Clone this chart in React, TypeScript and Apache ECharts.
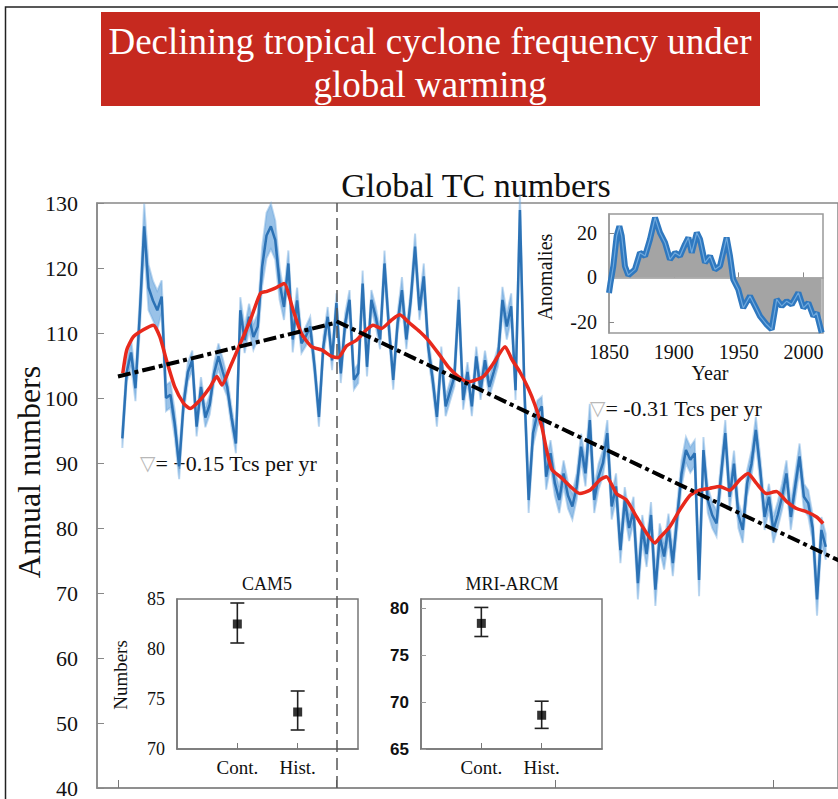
import React, { useEffect, useRef } from 'react';
import * as echarts from 'echarts';

const FONT = "'Liberation Serif', 'Times New Roman', Times, serif";

// Main panel: annual global TC numbers (central ensemble line), 1851-2012
const START_YEAR = 1851;
const tcNumbers = [
  93.8, 104, 107, 101.5, 113, 126.4, 117, 115, 113.5, 115.6,
  100, 100.5, 96, 89.5, 99, 104, 105.8, 95.6, 101.7, 97,
  99, 103.8, 106.4, 104, 101.7, 97, 93, 113.5, 108.9, 112.5,
  109.4, 111, 120.2, 125, 126.4, 124.3, 117.6, 114, 120.7, 109,
  115, 108.4, 109.5, 111, 104.8, 97.1, 107.9, 112.5, 105.8, 114.6,
  103.8, 111.5, 115.1, 102.8, 103.8, 117.6, 104.8, 115.1, 112.5, 109,
  120.7, 111, 102.8, 111.5, 116.6, 109, 115, 123.3, 113.5, 118.7,
  107.9, 103, 97.1, 106.4, 98.7, 101, 103.3, 115.1, 99.7, 104,
  98.7, 106.4, 101.2, 105.8, 101.7, 104, 106.4, 115.1, 111, 114.1,
  101.2, 128.9, 101.7, 84.3, 94.6, 97.6, 98.7, 87.9, 91.5, 86.9,
  84.3, 88.4, 85, 83.3, 86.4, 92.5, 88.4, 96.6, 84.3, 87.9,
  90, 94.6, 83.3, 86.4, 76.6, 84.3, 80, 82.8, 71.5, 80,
  76, 82, 70.5, 78.7, 75.6, 80.2, 74.6, 81.7, 88.4, 92,
  90.5, 91.5, 72, 92, 84.3, 82, 80.7, 87.9, 94.6, 84.8,
  89.9, 82, 79.7, 86.9, 89.9, 95.1, 88.9, 81.7, 84.8, 79.7,
  82, 84.8, 88.4, 81.7, 86.4, 91, 84.8, 83.8, 80, 69,
  79.7, 77.1,
];
// half-width of the ensemble spread (light blue band), per year
const tcSpread = [
  1.5, 1.5, 2, 2, 2.5, 3.5, 3.5, 3, 3, 2.5,
  2, 2, 2, 2, 1.5, 1.5, 1.5, 1.5, 1.5, 1.5,
  1.5, 1.5, 2, 2, 1.5, 1.5, 1.5, 2, 2, 2,
  2, 2, 3, 3.5, 3.5, 3, 2.5, 2, 2, 2,
  2, 1.5, 1.5, 1.5, 1.5, 1.5, 1.5, 1.5, 1.5, 1.5,
  1.5, 1.5, 1.5, 1.5, 1.5, 2, 1.5, 1.5, 1.5, 1.5,
  2, 1.5, 1.5, 1.5, 2, 1.5, 1.5, 2, 1.5, 2,
  1.5, 1.5, 1.5, 1.5, 1.5, 1.5, 1.5, 2, 1.5, 1.5,
  1.5, 1.5, 1.5, 1.5, 1.5, 1.5, 1.5, 2, 2, 2,
  1.5, 2.5, 2, 2, 2, 2, 1.5, 2, 2, 2,
  2, 2, 2, 2, 2, 2, 2, 2.5, 2, 2,
  2, 2, 2, 2, 2, 2, 2, 2, 2.5, 2,
  2, 2, 2.5, 2, 2, 2, 2, 2, 2, 2,
  2, 2, 2.5, 2, 2, 2, 2, 2, 2, 2,
  2, 2, 2, 2, 2, 2, 2, 2, 2, 2,
  2, 2, 2, 2, 2, 2, 2, 2, 2, 2.5,
  2, 2,
];
// Smoothed (red) curve
const smoothed: [number, number][] = [
  [1851.1, 103.8], [1852, 107.4], [1853.5, 109.4], [1855.8, 110.5], [1858.1, 111.2],
  [1859.6, 109.4], [1861.1, 105.8], [1863, 101.7], [1865, 99.2], [1866.5, 98.4],
  [1868.8, 99.7], [1871.1, 101.7], [1872.6, 103.3], [1873.8, 102], [1875.7, 104.8],
  [1878, 108.4], [1880.3, 112], [1882.6, 116.1], [1884.1, 116.4], [1886, 116.9],
  [1888, 117.6], [1890.1, 113.5], [1892, 109.9], [1894.3, 107.9], [1896.6, 107.4],
  [1898.9, 106.4], [1900.4, 106.2], [1902.3, 108], [1904.6, 108.9], [1906.9, 110.5],
  [1908.4, 111.2], [1910.3, 110.7], [1912.6, 112], [1914.5, 112.8], [1916.8, 111.5],
  [1919.1, 110.2], [1921, 108.9], [1923.3, 106.9], [1925.6, 104.8], [1927.9, 103.3],
  [1930.2, 102.5], [1933.6, 103.3], [1935.9, 105.3], [1938.6, 107.9], [1940.1, 106],
  [1942, 104], [1943.9, 101.5], [1945.4, 99], [1947, 95.6], [1948.1, 92],
  [1949.3, 89], [1951.2, 87.9], [1953.5, 86.4], [1955.7, 85.3], [1958, 85.8],
  [1960.3, 87.4], [1961.8, 87.9], [1964.1, 85.3], [1966.4, 84.3], [1968.7, 81.7],
  [1971, 79.2], [1972.9, 77.7], [1974, 78.5], [1976.3, 80.2], [1978.6, 82.8],
  [1980.9, 85], [1983, 85.8], [1985.4, 86.1], [1987.7, 86.4], [1990, 85.8],
  [1992.3, 87.4], [1994.2, 88.4], [1996.1, 86.9], [1998.4, 85.3], [2000.7, 85.6],
  [2003, 84.1], [2005.3, 83], [2007.6, 82.5], [2009.9, 81.7], [2011.4, 80.7],
];
const trendEarly: [number, number][] = [[1850, 103.3], [1900, 111.6]];
const trendLate: [number, number][] = [[1900, 111.8], [2015, 75.0]];
const breakYear = 1900;
const mainXTicks = [1850, 1900, 1950, 2000];

// Anomalies inset
const anomalies: [number, number][] = [
  [1850, -7], [1851, -3], [1853.3, 5], [1855.9, 18.6], [1858, 23], [1859.8, 18.6],
  [1862.3, 5], [1864.9, 1], [1870, 3.6], [1873.9, 11.1], [1877.8, 9.6], [1881.6, 17.1],
  [1885.5, 26.9], [1889.3, 20.1], [1893.2, 15.6], [1897, 8.1], [1900.9, 11.1], [1904.7, 9.6],
  [1908.6, 14.9], [1911.2, 17.9], [1913.8, 11.1], [1917.7, 20.1], [1920.2, 17.1], [1924, 6.6],
  [1927.9, 9.6], [1931.7, 3.6], [1935.6, 5.1], [1940.7, 17.9], [1943.3, 9.6], [1945.8, -0.9],
  [1949.7, -5.4], [1953.5, -13.7], [1958.7, -8.4], [1962.6, -12.9], [1966.4, -17.4], [1971.6, -21.2],
  [1975.4, -23.4], [1979.3, -9.9], [1983.2, -12.9], [1987, -10.7], [1990.9, -12.2], [1996, -6.9],
  [1999.9, -13.7], [2003.7, -11.4], [2007.6, -17.4], [2010.1, -15.9], [2014, -24.9],
];
const anomXTicks = [1850, 1900, 1950, 2000];
const anomYTicks = [-20, 0, 20];

// Model experiments
const modelCats = ['Cont.', 'Hist.'];
const cam5Mean = [82.5, 73.7];
const cam5Low = [80.6, 71.9];
const cam5High = [84.6, 75.8];
const mriMean = [78.4, 68.6];
const mriLow = [77.0, 67.2];
const mriHigh = [80.1, 70.1];
const mriYTicks = [65, 70, 75, 80];

const years = tcNumbers.map((_, i) => START_YEAR + i);

const errorBar = (params: any, api: any) => {
  const x = api.value(0);
  const lo = api.coord([x, api.value(1)]);
  const hi = api.coord([x, api.value(2)]);
  const w = 7;
  const st = { stroke: '#222', lineWidth: 1.6 };
  return {
    type: 'group',
    children: [
      { type: 'line', shape: { x1: lo[0], y1: lo[1], x2: hi[0], y2: hi[1] }, style: st },
      { type: 'line', shape: { x1: lo[0] - w, y1: lo[1], x2: lo[0] + w, y2: lo[1] }, style: st },
      { type: 'line', shape: { x1: hi[0] - w, y1: hi[1], x2: hi[0] + w, y2: hi[1] }, style: st },
    ],
  };
};

const bandItem = (params: any, api: any) => {
  if (params.dataIndex !== 0) return { type: 'group', children: [] };
  const upper: number[][] = [];
  const lower: number[][] = [];
  for (let i = 0; i < years.length; i++) {
    upper.push(api.coord([years[i], tcNumbers[i] + tcSpread[i]]));
    lower.push(api.coord([years[i], tcNumbers[i] - tcSpread[i]]));
  }
  return {
    type: 'polygon',
    shape: { points: upper.concat(lower.reverse()) },
    style: { fill: 'rgba(110,168,222,0.7)', stroke: 'rgba(110,168,222,0.45)', lineWidth: 2 },
  };
};

const plain = (v: number) => String(v);

export default function App() {
  const ref = useRef<HTMLDivElement>(null);
  useEffect(() => {
    if (!ref.current) return;
    const chart = echarts.init(ref.current, undefined, { renderer: 'svg' });
    const catLabel = (v: number) => modelCats[Math.round(v) - 1] ?? '';
    const insetX = (gridIndex: number) => ({
      type: 'value', gridIndex, min: 0, max: 3,
      axisLine: { show: true, lineStyle: { color: '#777', width: 1.5 } },
      axisTick: { show: true, inside: true, length: 6, customValues: [1, 2], lineStyle: { color: '#777' } },
      axisLabel: { customValues: [1, 2], formatter: catLabel, fontFamily: FONT, fontSize: 19, color: '#111', margin: 9 },
      splitLine: { show: false },
    });
    const option: any = {
      animation: false,
      backgroundColor: '#fff',
      grid: [
        { left: 97, top: 203, width: 741, height: 585, show: true, borderColor: '#888', borderWidth: 1.5, outerBoundsMode: 'none', containLabel: false },
        { left: 609, top: 214, width: 214, height: 119, show: true, borderColor: '#999', borderWidth: 1.5, backgroundColor: '#fff', outerBoundsMode: 'none', containLabel: false },
        { left: 177, top: 599, width: 181, height: 150, show: true, borderColor: '#777', borderWidth: 1.5, outerBoundsMode: 'none', containLabel: false },
        { left: 421, top: 599, width: 181, height: 150, show: true, borderColor: '#777', borderWidth: 1.5, outerBoundsMode: 'none', containLabel: false },
      ],
      xAxis: [
        {
          type: 'value', gridIndex: 0, min: 1845.2, max: 2014.8,
          axisLine: { show: true, lineStyle: { color: '#888', width: 1.5 } },
          axisTick: { show: true, inside: true, length: 8, customValues: mainXTicks, lineStyle: { color: '#777' } },
          axisLabel: { customValues: mainXTicks, formatter: plain, fontFamily: FONT, fontSize: 22, color: '#111', margin: 8 },
          splitLine: { show: false },
        },
        {
          type: 'value', gridIndex: 1, min: 1850, max: 2015,
          axisLine: { show: true, lineStyle: { color: '#999', width: 1.5 } },
          axisTick: { show: true, inside: true, length: 5, customValues: anomXTicks, lineStyle: { color: '#888' } },
          axisLabel: { customValues: anomXTicks, formatter: plain, fontFamily: FONT, fontSize: 20, color: '#111', margin: 9 },
          splitLine: { show: false },
        },
        insetX(2),
        insetX(3),
      ],
      yAxis: [
        {
          type: 'value', gridIndex: 0, min: 40, max: 130, interval: 10,
          axisLine: { show: true, lineStyle: { color: '#888', width: 1.5 } },
          axisTick: { show: true, inside: true, length: 7, lineStyle: { color: '#888' } },
          axisLabel: { formatter: plain, fontFamily: FONT, fontSize: 22, color: '#111', margin: 19 },
          splitLine: { show: false },
        },
        {
          type: 'value', gridIndex: 1, min: -25, max: 28.5,
          axisLine: { show: true, lineStyle: { color: '#999', width: 1.5 } },
          axisTick: { show: true, inside: true, length: 5, customValues: anomYTicks, lineStyle: { color: '#888' } },
          axisLabel: { customValues: anomYTicks, formatter: plain, fontFamily: FONT, fontSize: 20, color: '#111', margin: 12 },
          splitLine: { show: false },
        },
        {
          type: 'value', gridIndex: 2, min: 70, max: 85, interval: 5,
          axisLine: { show: true, lineStyle: { color: '#777', width: 1.5 } },
          axisTick: { show: false },
          axisLabel: { formatter: plain, fontFamily: FONT, fontSize: 18, color: '#111', margin: 12 },
          splitLine: { show: false },
        },
        {
          type: 'value', gridIndex: 3, min: 65, max: 81,
          axisLine: { show: true, lineStyle: { color: '#777', width: 1.5 } },
          axisTick: { show: true, inside: true, length: 5, customValues: mriYTicks, lineStyle: { color: '#999' } },
          axisLabel: { customValues: mriYTicks, formatter: plain, fontFamily: "'Liberation Sans', Arial, sans-serif", fontWeight: 'bold', fontSize: 17, color: '#111', margin: 12 },
          splitLine: { show: false },
        },
      ],
      series: [
        {
          type: 'custom', xAxisIndex: 0, yAxisIndex: 0, silent: true,
          renderItem: bandItem,
          encode: { x: 0, y: [1, 2] },
          data: years.map((y, i) => [y, tcNumbers[i] - tcSpread[i], tcNumbers[i] + tcSpread[i]]),
        },
        {
          type: 'line', xAxisIndex: 0, yAxisIndex: 0, symbol: 'none',
          lineStyle: { color: '#2c72b5', width: 2.5 },
          data: years.map((y, i) => [y, tcNumbers[i]]),
          markLine: {
            silent: true, symbol: 'none', label: { show: false },
            lineStyle: { color: '#555', width: 1.5, type: [12, 6] },
            data: [{ xAxis: breakYear }],
          },
        },
        {
          type: 'line', xAxisIndex: 0, yAxisIndex: 0, symbol: 'none', smooth: 0.2,
          lineStyle: { color: '#e8291c', width: 3.5 },
          data: smoothed,
        },
        {
          type: 'line', xAxisIndex: 0, yAxisIndex: 0, symbol: 'none',
          lineStyle: { color: '#000', width: 4, type: [13, 4, 4, 4] },
          data: trendEarly,
        },
        {
          type: 'line', xAxisIndex: 0, yAxisIndex: 0, symbol: 'none',
          lineStyle: { color: '#000', width: 4, type: [13, 4, 4, 4] },
          data: trendLate,
        },
        {
          type: 'line', xAxisIndex: 1, yAxisIndex: 1, symbol: 'none',
          lineStyle: { color: '#2f78bf', width: 6 },
          areaStyle: { color: '#a4a4a4', opacity: 1, origin: 'auto' },
          data: anomalies,
        },
        {
          type: 'line', xAxisIndex: 1, yAxisIndex: 1, symbol: 'none',
          lineStyle: { color: '#6fa9de', width: 1.2 },
          data: anomalies,
        },
        {
          type: 'custom', xAxisIndex: 2, yAxisIndex: 2, renderItem: errorBar,
          encode: { x: 0, y: [1, 2] },
          data: modelCats.map((_, i) => [i + 1, cam5Low[i], cam5High[i]]),
        },
        {
          type: 'scatter', xAxisIndex: 2, yAxisIndex: 2, symbol: 'rect', symbolSize: 9,
          itemStyle: { color: '#000' },
          data: modelCats.map((_, i) => [i + 1, cam5Mean[i]]),
        },
        {
          type: 'custom', xAxisIndex: 3, yAxisIndex: 3, renderItem: errorBar,
          encode: { x: 0, y: [1, 2] },
          data: modelCats.map((_, i) => [i + 1, mriLow[i], mriHigh[i]]),
        },
        {
          type: 'scatter', xAxisIndex: 3, yAxisIndex: 3, symbol: 'rect', symbolSize: 9,
          itemStyle: { color: '#000' },
          data: modelCats.map((_, i) => [i + 1, mriMean[i]]),
        },
      ],
      graphic: [
        { type: 'rect', silent: true, shape: { x: 5.5, y: 7, width: 860, height: 820 }, style: { fill: 'none', stroke: '#222', lineWidth: 1.5 } },
        { type: 'rect', silent: true, shape: { x: 101, y: 12, width: 659, height: 94 }, style: { fill: '#c6291f' } },
        { type: 'text', x: 430, y: 41, style: { text: 'Declining tropical cyclone frequency under', fill: '#fff', fontFamily: FONT, fontSize: 37, align: 'center', verticalAlign: 'middle' } },
        { type: 'text', x: 430, y: 84, style: { text: 'global warming', fill: '#fff', fontFamily: FONT, fontSize: 37, align: 'center', verticalAlign: 'middle' } },
        { type: 'text', x: 476, y: 185, style: { text: 'Global TC numbers', fill: '#111', fontFamily: FONT, fontSize: 34, align: 'center', verticalAlign: 'middle' } },
        { type: 'text', x: 29, y: 472, rotation: Math.PI / 2, style: { text: 'Annual numbers', fill: '#111', fontFamily: FONT, fontSize: 32, align: 'center', verticalAlign: 'middle' } },
        { type: 'text', x: 545, y: 277, rotation: Math.PI / 2, style: { text: 'Anomalies', fill: '#111', fontFamily: FONT, fontSize: 20, align: 'center', verticalAlign: 'middle' } },
        { type: 'text', x: 710, y: 373, style: { text: 'Year', fill: '#111', fontFamily: FONT, fontSize: 20, align: 'center', verticalAlign: 'middle' } },
        { type: 'text', x: 120, y: 675, rotation: Math.PI / 2, style: { text: 'Numbers', fill: '#111', fontFamily: FONT, fontSize: 19, align: 'center', verticalAlign: 'middle' } },
        { type: 'text', x: 267, y: 584, style: { text: 'CAM5', fill: '#111', fontFamily: FONT, fontSize: 18, align: 'center', verticalAlign: 'middle' } },
        { type: 'text', x: 512, y: 584, style: { text: 'MRI-ARCM', fill: '#111', fontFamily: FONT, fontSize: 18, align: 'center', verticalAlign: 'middle' } },
        {
          type: 'text', x: 140, y: 463,
          style: {
            text: '{a|▽}{b|= +0.15 Tcs per yr}', align: 'left', verticalAlign: 'middle',
            rich: {
              a: { fontFamily: "'DejaVu Sans', sans-serif", fontSize: 20, fill: '#b8b8b8' },
              b: { fontFamily: FONT, fontSize: 22, fill: '#111' },
            },
          },
        },
        {
          type: 'text', x: 590, y: 408,
          style: {
            text: '{a|▽}{b|= -0.31 Tcs per yr}', align: 'left', verticalAlign: 'middle',
            rich: {
              a: { fontFamily: "'DejaVu Sans', sans-serif", fontSize: 20, fill: '#b8b8b8' },
              b: { fontFamily: FONT, fontSize: 22, fill: '#111' },
            },
          },
        },
      ],
    };
    chart.setOption(option);
    return () => chart.dispose();
  }, []);
  return <div ref={ref} style={{ position: 'absolute', left: 0, top: 0, width: 838, height: 799 }} />;
}
